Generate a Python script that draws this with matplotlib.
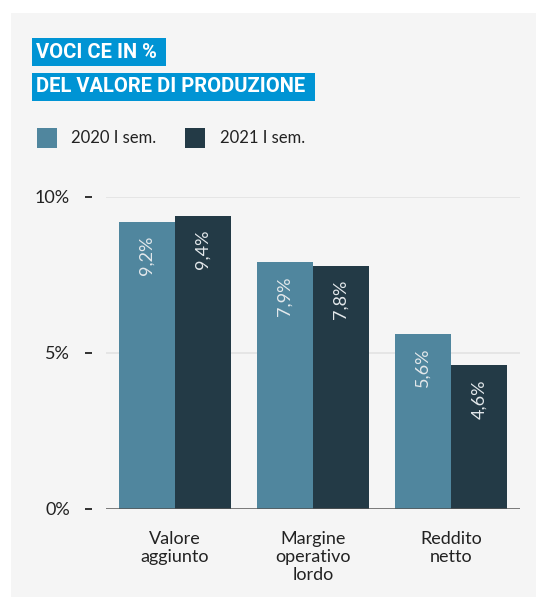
import matplotlib.pyplot as plt
import numpy as np
from matplotlib.patches import Rectangle

# data
categories = ["Valore\naggiunto", "Margine\noperativo\nlordo", "Reddito\nnetto"]
series_names = ["2020 I sem.", "2021 I sem."]
values_2020 = [9.2, 7.9, 5.6]
values_2021 = [9.4, 7.8, 4.6]
yticks = [0, 5, 10]
ytick_labels = ["0%", "5%", "10%"]

c_light = "#50869e"
c_dark = "#233a46"
c_title = "#0094d4"
txt = "#222222"
font = "Lato"

W, H = 536, 597
fig = plt.figure(figsize=(W / 100, H / 100), dpi=100)
fig.patch.set_facecolor("white")
fig.patches.append(Rectangle((11 / W, 0), 1 - 11 / W, 1 - 13 / H, transform=fig.transFigure,
                             facecolor="#f5f5f5", edgecolor="none", zorder=-5))

ax = fig.add_axes([106 / W, 1 - 508.5 / H, (520 - 106) / W, (508.5 - 197) / H])
ax.set_facecolor("none")
for s in ["top", "right", "bottom"]:
    ax.spines[s].set_visible(False)
ax.spines["left"].set_position(("outward", 10))
ax.spines["left"].set_visible(False)

x = np.arange(len(categories))
w = 56 / 138
ax.bar(x - w / 2, values_2020, w, color=c_light, zorder=2)
ax.bar(x + w / 2, values_2021, w, color=c_dark, zorder=2)

for xs, vals in [(x - w / 2, values_2020), (x + w / 2, values_2021)]:
    for xi, v in zip(xs, vals):
        ax.annotate(f"{v:.1f}%".replace(".", ","), (xi, v), xytext=(0, -10),
                    textcoords="offset points", rotation=90, ha="center", va="top",
                    color="#e3e8eb", fontsize=13, family=font)

ax.set_xlim(-0.5, 2.5)
ax.set_ylim(0, 10)
ax.set_yticks(yticks)
ax.set_yticklabels(ytick_labels, fontsize=13, color=txt, family=font)
ax.set_xticks(x)
ax.set_xticklabels(categories, fontsize=13, color=txt, family=font, linespacing=1.15)
ax.tick_params(axis="x", length=0, pad=16)
ax.tick_params(axis="y", length=5, width=1.3, color=txt, pad=11)
for yv in [5, 10]:
    ax.axhline(yv, color="#e2e2e2", lw=1.2, zorder=1)
ax.axhline(0, color="#555555", lw=1.8, zorder=3)

# title boxes
fig.text(36 / W, 1 - 52 / H, "VOCI CE IN % ", fontsize=14.5, fontweight="bold", color="white",
         family="Roboto", va="center", ha="left",
         bbox=dict(boxstyle="square,pad=0.22", facecolor=c_title, edgecolor="none"))
fig.text(36 / W, 1 - 87 / H, "DEL VALORE DI PRODUZIONE ", fontsize=14.5, fontweight="bold", color="white",
         family="Roboto", va="center", ha="left",
         bbox=dict(boxstyle="square,pad=0.22", facecolor=c_title, edgecolor="none"))

# legend
for sx, tx, col, name in [(37, 71, c_light, series_names[0]), (185, 220, c_dark, series_names[1])]:
    fig.patches.append(Rectangle((sx / W, 1 - 148 / H), 20 / W, 20 / H, transform=fig.transFigure,
                                 facecolor=col, edgecolor="none"))
    fig.text(tx / W, 1 - 138 / H, name, fontsize=12, color=txt, family=font, va="center", ha="left")

fig.savefig("out.png", dpi=100)
